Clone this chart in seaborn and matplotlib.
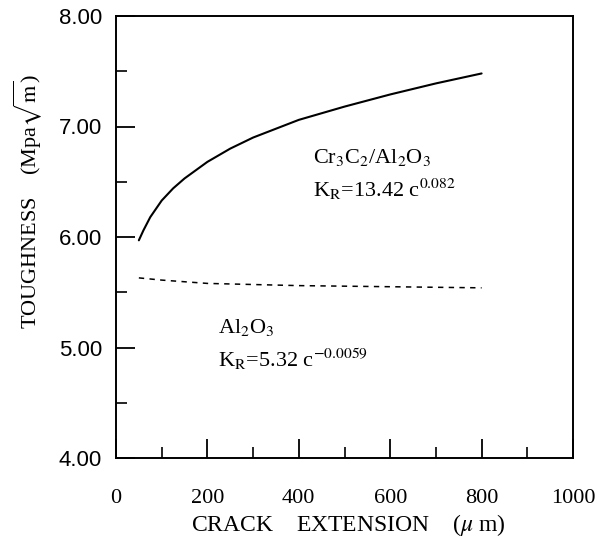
""" toughness vs crack extension """

import matplotlib
matplotlib.use("Agg")
import matplotlib.pyplot as plt
import seaborn as sns

# Cr3C2/Al2O3 composite (solid)
crack_cr = [50, 60, 75, 100, 125, 150, 200, 250, 300, 350, 400, 500, 600, 700, 800]
tough_cr = [5.97, 6.06, 6.18, 6.33, 6.44, 6.53, 6.68, 6.80, 6.90, 6.98, 7.06, 7.18, 7.29, 7.39, 7.48]

# monolithic Al2O3 (dashed)
crack_al = [50, 100, 200, 300, 400, 600, 800]
tough_al = [5.63, 5.61, 5.58, 5.57, 5.56, 5.55, 5.54]

x_ticks = [0, 200, 400, 600, 800, 1000]
y_ticks = [4.0, 5.0, 6.0, 7.0, 8.0]

sns.set_style("ticks")
plt.rcParams["font.family"] = ["Liberation Serif", "DejaVu Serif"]
plt.rcParams["mathtext.fontset"] = "stix"
for key in ["text.color", "axes.labelcolor", "xtick.color", "ytick.color", "axes.edgecolor"]:
    plt.rcParams[key] = "black"

fig = plt.figure(figsize=(6.12, 5.43), dpi=100)
ax = fig.add_axes([116 / 612, 1 - 458 / 543, 457 / 612, 442 / 543])

sns.lineplot(x=crack_cr, y=tough_cr, ax=ax, color="black", linewidth=1.5)
sns.lineplot(x=crack_al, y=tough_al, ax=ax, color="black", linewidth=1.1,
             linestyle=(0, (3.5, 3.5)))

ax.set_xlim(0, 1000)
ax.set_ylim(4, 8)
ax.set_xticks(x_ticks)
ax.set_xticks([100, 300, 500, 700, 900], minor=True)
ax.set_yticks(y_ticks)
ax.set_yticks([4.5, 5.5, 6.5, 7.5], minor=True)
ax.set_yticklabels(["%.2f" % v for v in y_ticks], family="Liberation Sans", fontsize=16)
ax.set_xticklabels([str(v) for v in x_ticks], fontsize=16)
ax.tick_params(axis="both", which="major", direction="in", length=14, width=1.3)
ax.tick_params(axis="both", which="minor", direction="in", length=8, width=1.2)
ax.tick_params(axis="y", which="major", pad=10)
ax.tick_params(axis="x", which="major", pad=22)
for side in ["left", "right", "top", "bottom"]:
    ax.spines[side].set_linewidth(1.4)
    ax.spines[side].set_visible(True)
ax.set_xlabel("")
ax.set_ylabel("")

ax.text(431, 6.67, r"Cr$_3$C$_2$/Al$_2$O$_3$", fontsize=16, va="baseline")
ax.text(431, 6.36, r"K$_\mathrm{R}$=13.42 c$^{0.082}$", fontsize=16, va="baseline")
ax.text(223, 5.13, r"Al$_2$O$_3$", fontsize=16, va="baseline")
ax.text(223, 4.82, r"K$_\mathrm{R}$=5.32 c$^{-0.0059}$", fontsize=16, va="baseline")

fig.text(28 / 612, 1 - 202 / 543, r"TOUGHNESS    (Mpa$\sqrt{\mathrm{m}}$)",
         rotation=90, ha="center", va="center", fontsize=16)
fig.text(348 / 612, 1 - 525 / 543, r"CRACK    EXTENSION    ($\mu$ m)",
         ha="center", va="center", fontsize=17)

fig.savefig("out.png", dpi=100)
